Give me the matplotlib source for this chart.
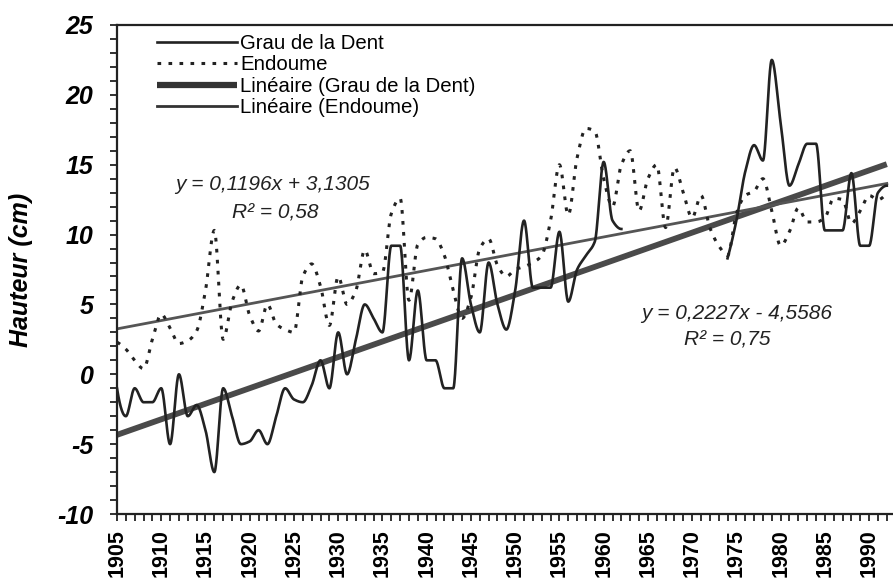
import numpy as np
import matplotlib
matplotlib.use("Agg")
import matplotlib.pyplot as plt
from matplotlib.ticker import MultipleLocator
from matplotlib.lines import Line2D

plt.rcParams['font.family'] = ['Liberation Sans', 'DejaVu Sans']
plt.rcParams['axes.unicode_minus'] = False

years = list(range(1905, 1993))

grau = [-1, -3, -1, -2, -2, -1, -5, 0, -3, -2.2,
        -4, -7, -1, -3, -5, -4.8, -4, -5, -3, -1,
        -1.8, -2, -0.8, 1, -1, 3, 0, 2.5, 5, 4,
        3, 9.2, 9.2, 1, 6, 1, 1, -1, -1, 8.3,
        5, 3, 8, 5, 3.2, 6, 11, 6.2, 6.2, 6.2,
        10.2, 5.2, 7.5, 8.5, 9.5, 15.2, 11, 10.4, None, None,
        None, None, None, None, None, None, None, None, None, 8.3,
        11, 14.5, 16.4, 15.3, 22.5, 18, 13.5, 15, 16.5, 16.5,
        10.3, 10.3, 10.3, 14.4, 9.2, 9.2, 13, 13.5]

endoume = [2.3, 1.8, 1.0, 0.4, 2.5, 4.3, 3.3, 2.2, 2.4, 3.1,
           6, 10.3, 2.5, 5.2, 6.4, 4.2, 3.1, 5, 3.6, 3.2,
           3, 7, 7.9, 6.3, 3.5, 7, 5, 6, 8.9, 7.2,
           7.3, 11.5, 12.6, 5.3, 9.3, 9.8, 9.7, 8.5, 6, 4,
           5.5, 9, 9.7, 7.8, 7, 7.5, 7.7, 8, 8.5, 11,
           15, 11.4, 15.5, 17.6, 17.4, 14, 12, 15, 16, 11.7,
           14, 15, 10.5, 14.8, 13, 11.2, 12.8, 10.5, 9.2, 8.5,
           11.5, 12.8, 13.1, 14, 11.7, 9.2, 10.2, 11.9, 10.9, 10.9,
           11.2, 12.6, 12.5, 10.8, 11.7, 12.8, 12.5, 13]

labels = ["Grau de la Dent", "Endoume", "Linéaire (Grau de la Dent)", "Linéaire (Endoume)"]
eq_endoume = ["y = 0,1196x + 3,1305", "R² = 0,58"]
eq_grau = ["y = 0,2227x - 4,5586", "R² = 0,75"]
slope_grau, icpt_grau = 0.2227, -4.5586
slope_end, icpt_end = 0.1196, 3.1305


def _pchip_slopes(y):
    m = len(y)
    d = np.diff(y)
    s = np.zeros(m)
    for k in range(1, m - 1):
        if d[k - 1] * d[k] > 0:
            s[k] = 2.0 / (1.0 / d[k - 1] + 1.0 / d[k])
    if m > 2:
        for e, d0, d1 in ((0, d[0], d[1]), (m - 1, d[-1], d[-2])):
            v = (3 * d0 - d1) / 2.0
            if np.sign(v) != np.sign(d0):
                v = 0.0
            elif np.sign(d0) != np.sign(d1) and abs(v) > 3 * abs(d0):
                v = 3 * d0
            s[e] = v
    else:
        s[:] = d[0]
    return s


def smooth(xs, ys, n=24):
    """Shape-preserving cubic rendering of a smoothed line, gaps kept."""
    xs = np.asarray(xs, float)
    ys = np.array([np.nan if v is None else v for v in ys], float)
    ox, oy = [], []
    valid = ~np.isnan(ys)
    i, N = 0, len(xs)
    t = np.linspace(0, 1, n, endpoint=False)
    h00 = 2 * t**3 - 3 * t**2 + 1
    h10 = t**3 - 2 * t**2 + t
    h01 = -2 * t**3 + 3 * t**2
    h11 = t**3 - t**2
    while i < N:
        if not valid[i]:
            i += 1
            continue
        j = i
        while j < N and valid[j]:
            j += 1
        px, py = xs[i:j], ys[i:j]
        if len(px) >= 2:
            s = _pchip_slopes(py)
            for k in range(len(px) - 1):
                ox.extend(px[k] + t * (px[k + 1] - px[k]))
                oy.extend(h00 * py[k] + h10 * s[k] + h01 * py[k + 1] + h11 * s[k + 1])
            ox.append(px[-1]); oy.append(py[-1])
            ox.append(np.nan); oy.append(np.nan)
        i = j
    return np.array(ox), np.array(oy)


fig = plt.figure(figsize=(8.93, 5.78), dpi=100)
ax = fig.add_axes([117 / 893, 1 - 514 / 578, 1 - 117 / 893, (514 - 25) / 578])

yr = np.array(years, float)
idx = yr - 1904  # Excel trendline x index (1 = 1905)

gx, gy = smooth(years, grau)
ex, ey = smooth(years, endoume)

ax.plot(yr, slope_grau * idx + icpt_grau, color='#4a4a4a', lw=4.2, solid_capstyle='butt', zorder=2)
ax.plot(yr, slope_end * idx + icpt_end, color='#555555', lw=2.0, zorder=2)
ax.plot(ex, ey, color='#222222', lw=2.2, linestyle=(0, (1.2, 2.4)), zorder=3)
ax.plot(gx, gy, color='#222222', lw=1.9, zorder=4)

ax.set_xlim(1905, 1992.7)
ax.set_ylim(-10, 25)

ax.xaxis.set_major_locator(MultipleLocator(5))
ax.xaxis.set_minor_locator(MultipleLocator(1))
ax.yaxis.set_major_locator(MultipleLocator(5))
ax.yaxis.set_minor_locator(MultipleLocator(1))

ax.tick_params(axis='x', which='both', direction='out', length=5, width=1.3, color='#222222')
ax.tick_params(axis='x', which='major', pad=6, labelsize=15.5, labelrotation=90)
ax.tick_params(axis='y', which='both', direction='out', length=5, width=1.3, color='#222222')
ax.tick_params(axis='y', which='major', pad=12, labelsize=18)
for lab in ax.get_xticklabels():
    lab.set_fontweight('bold')
for lab in ax.get_yticklabels():
    lab.set_fontweight('bold')
    lab.set_fontstyle('italic')

for s in ('left', 'bottom', 'top'):
    ax.spines[s].set_linewidth(1.6)
    ax.spines[s].set_color('#222222')
ax.spines['right'].set_visible(False)

ax.set_ylabel("Hauteur (cm)", fontsize=18, fontweight='bold', fontstyle='italic')
ax.yaxis.set_label_coords(-0.108, 0.5)

handles = [Line2D([], [], color='#222222', lw=1.9),
           Line2D([], [], color='#222222', lw=2.2, linestyle=(0, (1.2, 2.4))),
           Line2D([], [], color='#333333', lw=4.5, solid_capstyle='butt'),
           Line2D([], [], color='#333333', lw=2.0)]
ax.legend(handles, labels, loc='upper left', bbox_to_anchor=(0.052, 0.982),
          frameon=False, fontsize=14.7, handlelength=3.9, handletextpad=0.15,
          labelspacing=0.12, borderpad=0, borderaxespad=0)

tkw = dict(transform=ax.transAxes, ha='center', va='center', fontsize=15, fontstyle='italic', color='#222222')
ax.text(0.20, 0.673, eq_endoume[0], **tkw)
ax.text(0.204, 0.6155, eq_endoume[1], **tkw)
ax.text(0.798, 0.411, eq_grau[0], **tkw)
ax.text(0.786, 0.356, eq_grau[1], **tkw)

fig.savefig("out.png", dpi=100)
